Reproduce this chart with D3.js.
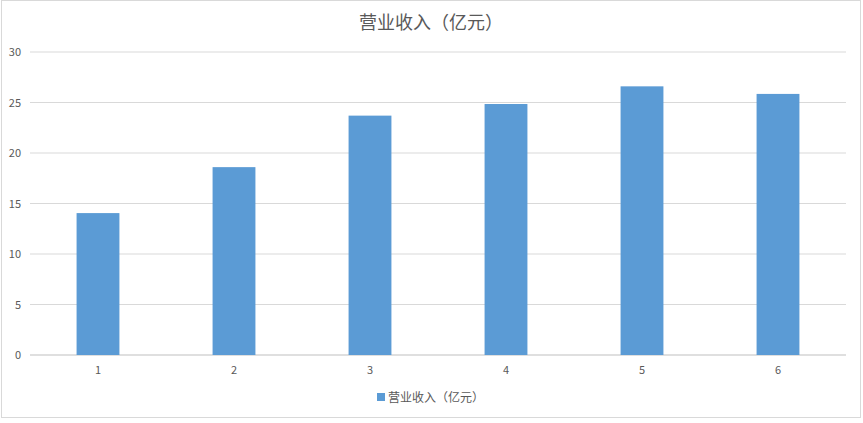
<!DOCTYPE html>
<html><head><meta charset="utf-8">
<script src="https://cdn.jsdelivr.net/npm/d3@7"></script>
<style>body{margin:0;background:#fff}</style></head>
<body><svg id="c" width="863" height="423"></svg>
<script>
const categories = ["1","2","3","4","5","6"];
const values = [14.05, 18.6, 23.7, 24.85, 26.6, 25.85];
const yTicks = [0,5,10,15,20,25,30];
const title = "营业收入（亿元）";
const seriesName = "营业收入（亿元）";

const svg = d3.select("#c");
const font = "'Noto Sans CJK SC', 'Microsoft YaHei', sans-serif";
svg.append("rect").attr("x",1.5).attr("y",0.5).attr("width",859).attr("height",417)
  .attr("fill","#fff").attr("stroke","#d9d9d9");
const x = d3.scaleBand().domain(categories).range([30,846]).paddingInner(0.685).paddingOuter(0.3425);
const y = d3.scaleLinear().domain([0,30]).range([355,52]);
svg.append("g").selectAll("line").data(yTicks).join("line")
  .attr("x1",30).attr("x2",846).attr("y1",d=>y(d)).attr("y2",d=>y(d))
  .attr("stroke",d=>d===0?"#bfbfbf":"#d9d9d9");
svg.append("g").selectAll("text").data(yTicks).join("text")
  .attr("x",21).attr("y",d=>y(d)+4).attr("text-anchor","end")
  .attr("font-family",font).attr("font-size",11).attr("fill","#595959").text(d=>d);
svg.append("g").selectAll("rect").data(values).join("rect")
  .attr("x",(d,i)=>x(categories[i])).attr("width",x.bandwidth())
  .attr("y",d=>y(d)).attr("height",d=>y(0)-y(d)).attr("fill","#5b9bd5");
svg.append("g").selectAll("text").data(categories).join("text")
  .attr("x",d=>x(d)+x.bandwidth()/2).attr("y",374).attr("text-anchor","middle")
  .attr("font-family",font).attr("font-size",11).attr("fill","#595959").text(d=>d);
svg.append("text").attr("x",431).attr("y",29).attr("text-anchor","middle")
  .attr("font-family",font).attr("font-size",18).attr("fill","#595959").text(title);
svg.append("rect").attr("x",377).attr("y",393).attr("width",8).attr("height",8).attr("fill","#5b9bd5");
svg.append("text").attr("x",388).attr("y",402)
  .attr("font-family",font).attr("font-size",12).attr("fill","#595959").text(seriesName);
</script></body></html>
